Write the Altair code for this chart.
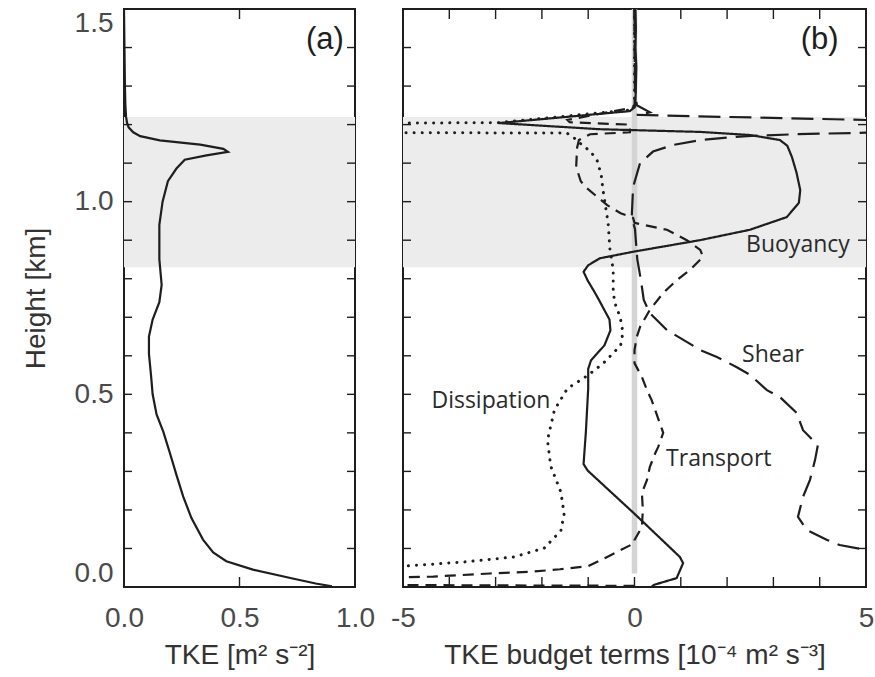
import altair as alt
import pandas as pd

# ---- Panel (a): TKE profile (m^2 s^-2) versus height (km) ----
tke_height = [1.5, 1.4, 1.3, 1.25, 1.22, 1.205, 1.193, 1.18, 1.17, 1.159, 1.148,
              1.137, 1.129, 1.12, 1.109, 1.086, 1.053, 1.0, 0.94, 0.851, 0.784,
              0.739, 0.694, 0.65, 0.605, 0.549, 0.5, 0.448, 0.403, 0.347, 0.291,
              0.235, 0.179, 0.123, 0.09, 0.067, 0.045, 0.022, 0.009, 0.002]
tke_value = [0.0, 0.002, 0.004, 0.006, 0.009, 0.013, 0.02, 0.04, 0.07, 0.155, 0.33,
             0.43, 0.45, 0.357, 0.263, 0.227, 0.19, 0.167, 0.153, 0.153, 0.163,
             0.153, 0.124, 0.108, 0.108, 0.117, 0.124, 0.141, 0.17, 0.199, 0.227,
             0.256, 0.292, 0.342, 0.386, 0.443, 0.558, 0.73, 0.83, 0.9]

# ---- Panel (b): TKE budget terms (1e-4 m^2 s^-3), listed top to bottom ----
buoy_height = [1.5, 1.45, 1.4, 1.35, 1.3, 1.26, 1.245, 1.235, 1.204, 1.188, 1.181,
               1.173, 1.16, 1.145, 1.116, 1.075, 1.03, 0.997, 0.96, 0.927, 0.9,
               0.87, 0.853, 0.835, 0.818, 0.795, 0.771, 0.75, 0.694, 0.666, 0.627,
               0.588, 0.566, 0.515, 0.403, 0.319, 0.302, 0.19, 0.078, 0.062, 0.023,
               0.006, 0.0]
buoy_value = [0.02, 0.03, 0.02, 0.04, 0.03, 0.02, 0.0, -0.1, -2.93, -0.75, 1.42,
              2.49, 3.14, 3.3, 3.4, 3.5, 3.58, 3.55, 3.29, 2.49, 1.41,
              -0.03, -0.75, -1.0, -1.1, -1.01, -0.89, -0.79, -0.54, -0.52, -0.65,
              -0.94, -1.0, -1.0, -1.05, -1.1, -1.01, 0.0, 0.98, 1.05, 0.91,
              0.43, 0.36]

shear_height = [1.5, 1.3, 1.25, 1.232, 1.225, 1.212, 1.205, 1.19, 1.179, 1.175,
                1.171, 1.168, 1.16, 1.147, 1.13, 1.1, 1.038, 0.96, 0.929, 0.851,
                0.795, 0.745, 0.711, 0.667, 0.615, 0.597, 0.571, 0.55, 0.511, 0.493,
                0.452, 0.407, 0.368, 0.33, 0.278, 0.234, 0.182, 0.148, 0.122, 0.109,
                0.096, 0.06, 0.0]
shear_value = [0.0, 0.01, 0.05, 0.33, 0.05, 5.0, 12.0, 12.0, 5.0, 3.5,
               2.6, 2.13, 1.42, 0.83, 0.4, 0.12, -0.03, -0.06, 0.01, 0.06,
               0.14, 0.2, 0.33, 0.7, 1.42, 1.78, 2.2, 2.5, 2.86, 3.14,
               3.5, 3.64, 3.96, 3.9, 3.79, 3.64, 3.53, 3.72, 4.16, 4.43,
               5.0, 12.0, 15.0]

trans_height = [1.5, 1.3, 1.245, 1.212, 1.206, 1.2, 1.18, 1.175, 1.16, 1.14, 1.09,
                1.053, 1.035, 0.991, 0.97, 0.958, 0.945, 0.927, 0.9, 0.875, 0.857,
                0.823, 0.797, 0.763, 0.719, 0.675, 0.649, 0.615, 0.581, 0.545, 0.511,
                0.485, 0.4, 0.363, 0.348, 0.311, 0.278, 0.244, 0.2, 0.156, 0.122,
                0.114, 0.078, 0.054, 0.046, 0.04, 0.035, 0.027, 0.025, 0.018, 0.007,
                0.005, 0.003]
trans_value = [0.0, 0.01, 0.0, -1.45, -1.4, -0.1, -0.1, -0.96, -1.2, -1.24, -1.26,
               -1.16, -1.03, -0.59, -0.3, -0.03, 0.0, 0.7, 1.13, 1.42, 1.48,
               1.2, 0.92, 0.62, 0.33, 0.12, 0.05, 0.0, 0.0, 0.16, 0.27,
               0.37, 0.62, 0.51, 0.45, 0.33, 0.27, 0.16, 0.18, 0.16, 0.0,
               0.0, -0.59, -1.0, -1.61, -2.19, -3.12, -4.35, -5.06, -9.0, -9.0,
               -5.0, 0.0]

diss_height = [1.5, 1.3, 1.25, 1.238, 1.205, 1.204, 1.2035, 1.18, 1.179, 1.178,
               1.165, 1.152, 1.13, 1.108, 1.07, 1.03, 0.945, 0.875, 0.823, 0.771,
               0.739, 0.7, 0.661, 0.627, 0.607, 0.58, 0.549, 0.515, 0.459, 0.381,
               0.314, 0.246, 0.19, 0.146, 0.101, 0.078, 0.065, 0.054, 0.045]
diss_value = [0.0, 0.0, 0.0, -0.1, -2.95, -5.0, -9.0, -9.0, -5.0, -1.46,
              -1.3, -1.18, -0.95, -0.81, -0.72, -0.68, -0.57, -0.53, -0.46, -0.46,
              -0.43, -0.31, -0.25, -0.3, -0.46, -0.68, -1.01, -1.45, -1.73, -1.88,
              -1.81, -1.59, -1.52, -1.59, -1.95, -2.6, -3.68, -5.0, -9.0]

# term annotations: (label, value, height)
term_labels = ["Buoyancy", "Shear", "Transport", "Dissipation"]
term_label_x = [3.53, 2.99, 1.82, -3.1]
term_label_y = [0.888, 0.602, 0.332, 0.482]

# inversion layer (shaded band), km
band_bottom = [0.83]
band_top = [1.22]

# zero line of panel (b)
zero_x = [0.0]
zero_from = [0.035]
zero_to = [1.5]

# axis ticks
height_ticks = [0.0, 0.5, 1.0, 1.5]
height_minor = [0.1, 0.2, 0.3, 0.4, 0.5, 0.6, 0.7, 0.8, 0.9, 1.0, 1.1, 1.2, 1.3, 1.4]
tke_ticks = [0.0, 0.5, 1.0]
tke_minor = [0.5]
budget_ticks = [-5, 0, 5]
budget_minor = [-4, -3, -2, -1, 0, 1, 2, 3, 4]

W_A, W_B, H = 231, 463, 578
INK = "#1e1e1e"
LABEL = "#4a4a4a"
AXIS_FONT = "Liberation Sans"

y_scale = alt.Scale(domain=[0, 1.5], nice=False, zero=False, padding=0)
xa_scale = alt.Scale(domain=[0, 1], nice=False, zero=False, padding=0)
xb_scale = alt.Scale(domain=[-5, 5], nice=False, zero=False, padding=0)

axis_text = dict(ticks=False, domain=False, grid=False, labelFont=AXIS_FONT,
                 labelFontSize=28, labelColor=LABEL, titleFont=AXIS_FONT,
                 titleFontSize=28, titleColor="#333333", titleFontWeight="normal")

# the same axis objects are handed to every layer of a panel so they merge cleanly
y_axis_a = alt.Axis(values=height_ticks, format=".1f", title="Height [km]",
                    labelFlush=True, labelPadding=11, titlePadding=24, **axis_text)
x_axis_a = alt.Axis(values=tke_ticks, format=".1f", title="TKE [m² s⁻²]",
                    labelFlush=False, labelPadding=17, titlePadding=9, **axis_text)
x_axis_b = alt.Axis(values=budget_ticks, labelExpr="'' + datum.value",
                    title="TKE budget terms [10⁻⁴ m² s⁻³]",
                    labelFlush=False, labelPadding=17, titlePadding=9, **axis_text)


def profile(heights, values):
    return pd.DataFrame({"h": heights, "v": values, "i": list(range(len(heights)))})


def band_layer(width, y_axis):
    df = pd.DataFrame({"lo": band_bottom, "hi": band_top})
    return alt.Chart(df).mark_rect(color="#ececec").encode(
        y=alt.Y("lo:Q", scale=y_scale, axis=y_axis), y2="hi:Q",
        x=alt.value(0), x2=alt.value(width))


def tick_layers(width, x_scale, x_axis, y_axis, x_minor):
    yt = pd.DataFrame({"t": height_minor})
    xt = pd.DataFrame({"t": x_minor})
    style = dict(color=INK, strokeWidth=1.4)
    left = alt.Chart(yt).mark_rule(**style).encode(
        y=alt.Y("t:Q", scale=y_scale, axis=y_axis), x=alt.value(0), x2=alt.value(8))
    right = alt.Chart(yt).mark_rule(**style).encode(
        y=alt.Y("t:Q", scale=y_scale, axis=y_axis), x=alt.value(width - 8),
        x2=alt.value(width))
    top = alt.Chart(xt).mark_rule(**style).encode(
        x=alt.X("t:Q", scale=x_scale, axis=x_axis), y=alt.value(0), y2=alt.value(10))
    bottom = alt.Chart(xt).mark_rule(**style).encode(
        x=alt.X("t:Q", scale=x_scale, axis=x_axis), y=alt.value(H - 10), y2=alt.value(H))
    return [left, right, top, bottom]


def panel_letter(text, x, x_scale, x_axis, y_axis):
    df = pd.DataFrame({"x": [x], "y": [1.42], "t": [text]})
    return alt.Chart(df).mark_text(font="Liberation Sans", fontSize=31, color=INK,
                                   align="center", baseline="middle").encode(
        x=alt.X("x:Q", scale=x_scale, axis=x_axis),
        y=alt.Y("y:Q", scale=y_scale, axis=y_axis), text="t:N")


# ---------------- Panel (a) ----------------
tke_line = alt.Chart(profile(tke_height, tke_value)).mark_line(
    color=INK, strokeWidth=2.2, clip=True).encode(
    x=alt.X("v:Q", scale=xa_scale, axis=x_axis_a),
    y=alt.Y("h:Q", scale=y_scale, axis=y_axis_a),
    order=alt.Order("i:Q"))

panel_a = alt.layer(
    band_layer(W_A, y_axis_a), tke_line,
    *tick_layers(W_A, xa_scale, x_axis_a, y_axis_a, tke_minor),
    panel_letter("(a)", 0.87, xa_scale, x_axis_a, y_axis_a)
).properties(width=W_A, height=H)

# ---------------- Panel (b) ----------------
zero_df = pd.DataFrame({"x": zero_x, "y0": zero_from, "y1": zero_to})
zero_line = alt.Chart(zero_df).mark_rule(color="#d4d4d4", strokeWidth=5.5).encode(
    x=alt.X("x:Q", scale=xb_scale, axis=x_axis_b),
    y=alt.Y("y0:Q", scale=y_scale, axis=None), y2="y1:Q")


def term_line(heights, values, dash, width=2.2, cap="butt"):
    return alt.Chart(profile(heights, values)).mark_line(
        color=INK, strokeWidth=width, strokeDash=dash, strokeCap=cap, clip=True
    ).encode(x=alt.X("v:Q", scale=xb_scale, axis=x_axis_b),
             y=alt.Y("h:Q", scale=y_scale, axis=None), order=alt.Order("i:Q"))


labels_df = pd.DataFrame({"t": term_labels, "x": term_label_x, "y": term_label_y})
term_text = alt.Chart(labels_df).mark_text(
    font="Open Sans", fontSize=23, color="#2a2a2a", align="center", baseline="middle"
).encode(x=alt.X("x:Q", scale=xb_scale, axis=x_axis_b),
         y=alt.Y("y:Q", scale=y_scale, axis=None), text="t:N")

panel_b = alt.layer(
    band_layer(W_B, None), zero_line,
    term_line(diss_height, diss_value, [0.1, 8], width=3, cap="round"),
    term_line(trans_height, trans_value, [11, 7]),
    term_line(shear_height, shear_value, [22, 9]),
    term_line(buoy_height, buoy_value, [1, 0]),
    term_text, *tick_layers(W_B, xb_scale, x_axis_b, None, budget_minor),
    panel_letter("(b)", 4.0, xb_scale, x_axis_b, None)
).properties(width=W_B, height=H)

chart = alt.hconcat(panel_a, panel_b, spacing=48, bounds="flush").properties(
    padding={"left": 21, "top": 5, "right": 0, "bottom": 0},
    background="white"
).configure_view(stroke=INK, strokeWidth=2)

chart.save("out.html", embed_options={"renderer": "svg", "actions": False})
